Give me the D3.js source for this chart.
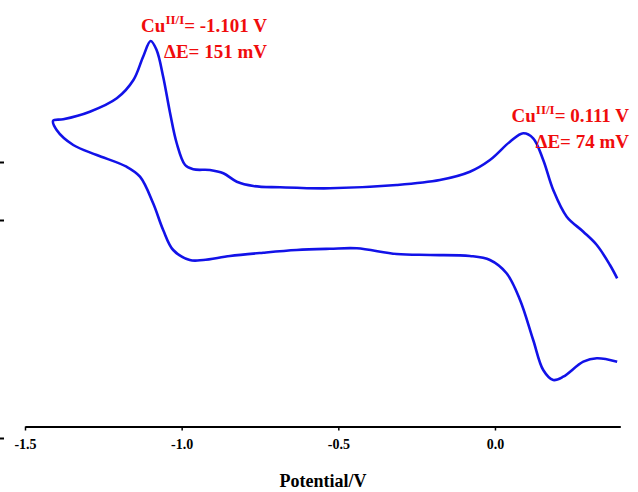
<!doctype html>
<html>
<head>
<meta charset="utf-8">
<title>Cyclic voltammogram</title>
<script src="https://cdn.jsdelivr.net/npm/d3@7"></script>
<style>
    html, body {
        margin: 0px;
        padding: 0px;
        background: #fff;
    }
    .tick text {
        font-family: "Liberation Serif", "Times New Roman", serif;
        font-weight: bold;
    }
</style>
</head>
<body>
<svg class="svg"></svg>
<script>
    // potential (V) and current (arbitrary units), forward sweep from the right end to the turning point
    var topPotential = [0.390, 0.367, 0.325, 0.282, 0.229, 0.186, 0.154, 0.122, 0.090, 0.048, -0.016, -0.080,
        -0.176, -0.314, -0.527, -0.686, -0.771, -0.824, -0.867, -0.910, -0.963, -0.989, -1.016, -1.037,
        -1.059, -1.080, -1.099, -1.123, -1.154, -1.207, -1.293, -1.378, -1.410];
    var topCurrent = [15.97, 17.3, 19.3, 20.63, 22.13, 24.8, 27.8, 29.97, 30.47, 29.63, 27.8, 26.63,
        25.8, 25.3, 24.97, 25.07, 25.2, 25.63, 26.47, 26.8, 26.87, 27.3, 29.5, 32.5,
        36.13, 38.8, 39.7, 38.13, 35.8, 33.97, 32.63, 31.87, 31.73];
    // return sweep from the turning point back to the right end
    var bottomPotential = [-1.399, -1.346, -1.271, -1.176, -1.133, -1.091, -1.059, -1.027, -0.974, -0.931,
        -0.846, -0.740, -0.633, -0.527, -0.441, -0.314, -0.207, -0.080, -0.016, 0.037, 0.080,
        0.122, 0.154, 0.186, 0.218, 0.282, 0.325, 0.390];
    var bottomCurrent = [30.8, 29.3, 28.3, 27.13, 26.13, 23.47, 20.8, 18.8, 17.8, 17.8,
        18.2, 18.53, 18.8, 18.92, 18.97, 18.4, 18.3, 18.2, 17.8, 16.47, 13.8,
        9.8, 6.8, 5.8, 6.13, 7.63, 7.97, 7.63];

    var xTicks = [-1.5, -1.0, -0.5, 0.0];
    var yTicks = [27.6, 21.8, 0];
    var xTitle = 'Potential/V';
    var notes = [
        {sup: 'II/I', value: '= -1.101 V', dE: '\u0394E= 151 mV', at: -1.101},
        {sup: 'II/I', value: '= 0.111 V', dE: '\u0394E= 74 mV', at: 0.111}
    ];

    var width = 638, height = 492;
    var svg = d3.select('svg').attr('width', width).attr('height', height);

    var xScale = d3.scaleLinear().domain([-1.5, 0.4]).range([25, 620.3]);
    var yScale = d3.scaleLinear().domain([0, 40]).range([438, 38]);

    var points = [];
    topPotential.forEach(function(v, i) { points.push([v, topCurrent[i]]); });
    bottomPotential.forEach(function(v, i) { points.push([v, bottomCurrent[i]]); });

    var line = d3.line()
        .x(function(d) { return xScale(d[0]); })
        .y(function(d) { return yScale(d[1]); })
        .curve(d3.curveCatmullRom.alpha(0.5));

    svg.append('path')
        .datum(points)
        .attr('fill', 'none')
        .attr('stroke', '#1212e8')
        .attr('stroke-width', 2.6)
        .attr('stroke-linejoin', 'round')
        .attr('d', line);

    var xAxis = d3.axisBottom(xScale)
        .tickValues(xTicks)
        .tickSizeInner(4)
        .tickSizeOuter(0)
        .tickPadding(9)
        .tickFormat(function(d) { return d.toFixed(1); });
    var xAxisGroup = svg.append('g')
        .attr('transform', 'translate(0, 426.5)')
        .call(xAxis);
    xAxisGroup.select('.domain').attr('stroke-width', 2);
    xAxisGroup.selectAll('.tick line').attr('stroke-width', 1.5);
    xAxisGroup.selectAll('.tick text').attr('font-size', 14).attr('fill', '#000');

    var yAxis = d3.axisLeft(yScale)
        .tickValues(yTicks)
        .tickSize(4)
        .tickFormat('');
    var yAxisGroup = svg.append('g')
        .attr('transform', 'translate(4, 0)')
        .call(yAxis);
    yAxisGroup.select('.domain').remove();
    yAxisGroup.selectAll('.tick line').attr('stroke-width', 2);

    svg.append('text')
        .attr('x', 323)
        .attr('y', 487)
        .attr('text-anchor', 'middle')
        .attr('font-family', '"Liberation Serif", "Times New Roman", serif')
        .attr('font-weight', 'bold')
        .attr('font-size', 18)
        .text(xTitle);

    // peak annotations
    var notePos = [{x: 267, y: 31.5}, {x: 629, y: 121.5}];
    notes.forEach(function(n, i) {
        var g = svg.append('g')
            .attr('font-family', '"Liberation Serif", "Times New Roman", serif')
            .attr('font-weight', 'bold')
            .attr('fill', '#f00c0c');
        var t = g.append('text')
            .attr('x', notePos[i].x)
            .attr('y', notePos[i].y)
            .attr('text-anchor', 'end')
            .attr('font-size', 19);
        t.append('tspan').text('Cu');
        t.append('tspan').attr('font-size', 13).attr('dy', -8).text(n.sup);
        t.append('tspan').attr('dy', 8).text(n.value);
        g.append('text')
            .attr('x', notePos[i].x)
            .attr('y', notePos[i].y + 26.5)
            .attr('text-anchor', 'end')
            .attr('font-size', 19)
            .text(n.dE);
    });
</script>
</body>
</html>
